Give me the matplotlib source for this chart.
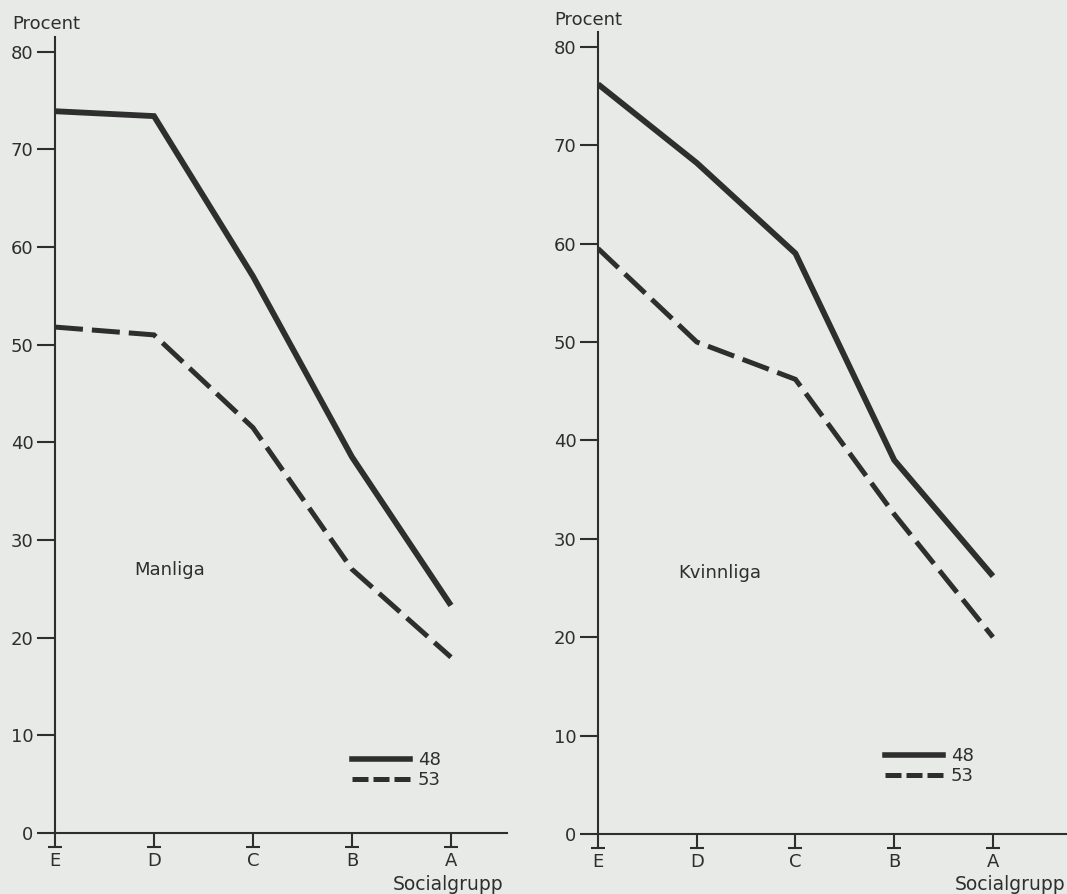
import matplotlib.pyplot as plt
from matplotlib.lines import Line2D

# Socialgrupp E..A, andel (procent) for årskullarna 48 och 53
groups = ['E', 'D', 'C', 'B', 'A']
years = ['48', '53']
manliga_48 = [73.9, 73.4, 57.0, 38.5, 23.3]
manliga_53 = [51.8, 51.0, 41.5, 27.0, 18.0]
kvinnliga_48 = [76.2, 68.2, 59.0, 38.0, 26.2]
kvinnliga_53 = [59.5, 50.0, 46.2, 32.5, 20.0]
yticks = [0, 10, 20, 30, 40, 50, 60, 70, 80]

bg = '#e7eae7'
ink = '#2e2e2e'
plt.rcParams['font.family'] = ['DejaVu Sans']

fig = plt.figure(figsize=(10.67, 8.94), dpi=100, facecolor=bg)
ax1 = fig.add_axes([55/1067, 61/894, 452/1067, 796/894])
ax2 = fig.add_axes([598/1067, 60/894, 469/1067, 802/894])


def panel(ax, v48, v53, label, label_pos, leg_pos, xmax, ymax):
    x = list(range(len(groups)))
    ax.set_facecolor(bg)
    ax.plot(x, v48, color=ink, lw=4.2, solid_joinstyle='miter', solid_capstyle='butt')
    ax.plot(x, v53, color=ink, lw=3.6, dashes=(5.6, 1.8), dash_capstyle='butt',
            dash_joinstyle='miter')
    ax.set_xlim(0, xmax)
    ax.set_ylim(0, ymax)
    ax.set_xticks(x)
    ax.set_xticklabels(groups)
    ax.set_yticks(yticks)
    for s in ['top', 'right']:
        ax.spines[s].set_visible(False)
    for s in ['left', 'bottom']:
        ax.spines[s].set_color(ink)
        ax.spines[s].set_linewidth(1.5)
    ax.tick_params(axis='y', direction='out', length=13, width=1.5, pad=2.5,
                   colors=ink, labelsize=13)
    ax.tick_params(axis='x', direction='out', length=10, width=1.5, pad=4,
                   colors=ink, labelsize=13)
    # small crossbars at the foot of each x tick
    ax.plot(x, [-0.0176] * len(x), ls='none', marker='_', ms=9.5, mew=1.5,
            color=ink, transform=ax.get_xaxis_transform(), clip_on=False)
    ax.text(label_pos[0], label_pos[1], label, transform=ax.transAxes,
            fontsize=13, color=ink, va='center', ha='left')
    handles = [Line2D([], [], color=ink, lw=4.0),
               Line2D([], [], color=ink, lw=3.6, dashes=(3.2, 1.0))]
    ax.legend(handles, years, loc='center left', bbox_to_anchor=leg_pos,
              frameon=False, fontsize=13, handlelength=3.2, handletextpad=0.45,
              labelspacing=0.12, borderpad=0, borderaxespad=0, labelcolor=ink)


panel(ax1, manliga_48, manliga_53, 'Manliga', (0.175, 0.331), (0.657, 0.079),
      4.566, 81.5)
panel(ax2, kvinnliga_48, kvinnliga_53, 'Kvinnliga', (0.171, 0.325), (0.612, 0.0848),
      4.75, 81.5)

fig.text(12/1067, 1 - 29/894, 'Procent', fontsize=13, color=ink, va='baseline')
fig.text(554/1067, 1 - 25/894, 'Procent', fontsize=13, color=ink, va='baseline')
fig.text(503/1067, 1 - 890/894, 'Socialgrupp', fontsize=13.5, color=ink,
         va='baseline', ha='right')
fig.text(1065/1067, 1 - 890/894, 'Socialgrupp', fontsize=13.5, color=ink,
         va='baseline', ha='right')

fig.savefig('out.png', dpi=100, facecolor=bg)
